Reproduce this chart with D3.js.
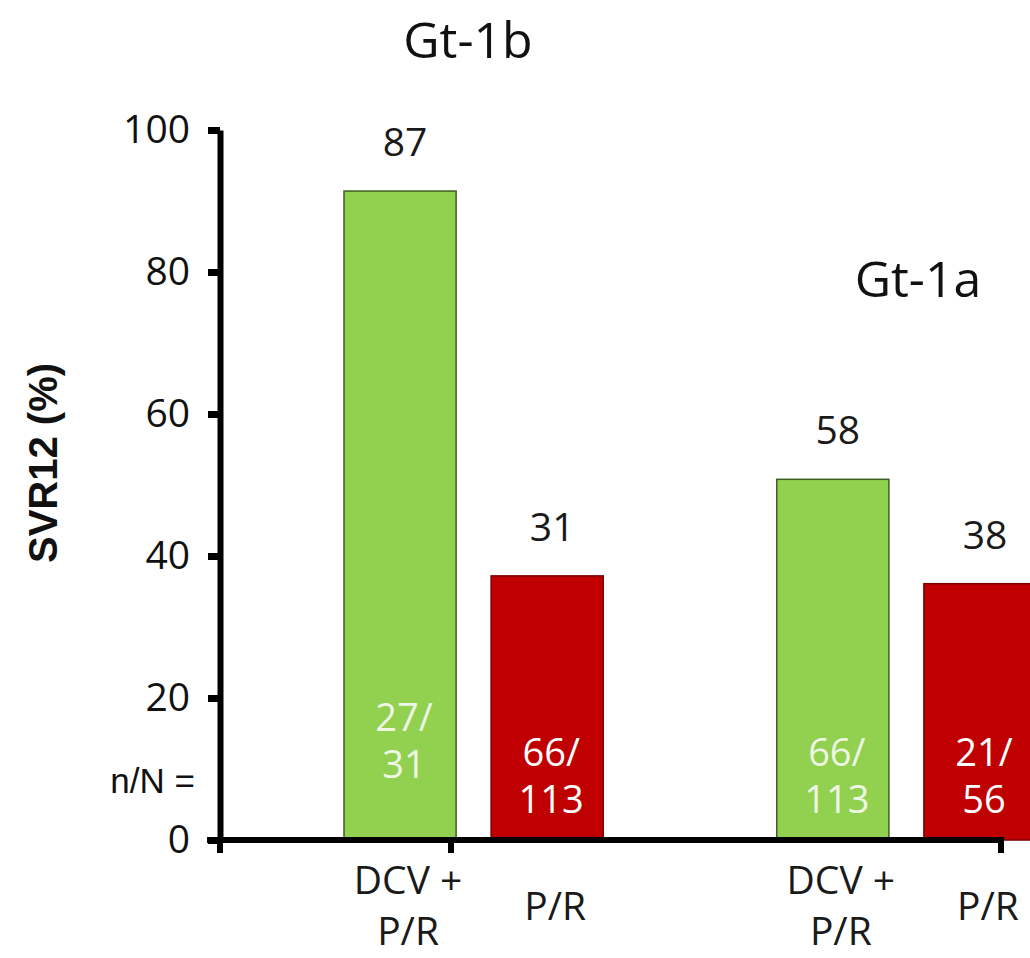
<!DOCTYPE html>
<html lang="en">
<head>
<meta charset="UTF-8">
<title>SVR12 by genotype</title>
<style>
    body {
        margin: 0;
        background-color: #FFFFFF;
    }
    svg {
        display: block;
        font-family: "Open Sans", sans-serif;
    }
</style>
</head>
<body>
<svg id="chart" width="1030" height="958"></svg>

<script src="https://d3js.org/d3.v7.min.js"></script>
<script>
    // Data
    const genotypes = ["Gt-1b", "Gt-1a"];
    const regimens = ["DCV + P/R", "P/R"];
    // bar heights as they are drawn in the picture (%)
    const barHeights = [[91.4, 37.2], [50.8, 36.1]];
    // printed SVR12 values above the bars
    const svrLabels = [[87, 31], [58, 38]];
    // n/N printed inside the bars
    const nOverN = [["27/31", "66/113"], ["66/113", "21/56"]];
    const yTicks = [0, 20, 40, 60, 80, 100];

    const colors = ["#92D050", "#C00000"];
    const strokes = ["#3E5E20", "#7A0000"];
    const innerText = ["#EEF7E4", "#FFFFFF"];

    const svg = d3.select("#chart");

    // Scales
    const y = d3.scaleLinear().domain([0, 100]).range([840, 130]);

    const x0 = d3.scaleBand()
        .domain(genotypes)
        .range([344, 1036])
        .paddingInner(0.401)
        .paddingOuter(0);

    const x1 = d3.scaleBand()
        .domain(regimens)
        .range([0, x0.bandwidth()])
        .paddingInner(0.238);

    const bars = [];
    genotypes.forEach((g, gi) => {
        regimens.forEach((r, ri) => {
            bars.push({
                g, r, gi, ri,
                h: barHeights[gi][ri],
                label: svrLabels[gi][ri],
                n: nOverN[gi][ri].split("/")
            });
        });
    });

    const cx = d => x0(d.g) + x1(d.r) + x1.bandwidth() / 2;

    // Bars
    svg.append("g")
        .selectAll("rect")
        .data(bars)
        .join("rect")
        .attr("x", d => x0(d.g) + x1(d.r))
        .attr("y", d => y(d.h))
        .attr("width", x1.bandwidth())
        .attr("height", d => y(0) - y(d.h))
        .attr("fill", d => colors[d.ri])
        .attr("stroke", d => strokes[d.ri])
        .attr("stroke-width", 1.5);

    // Y axis
    const yAxis = svg.append("g")
        .attr("transform", "translate(220,0)")
        .call(d3.axisLeft(y).tickValues(yTicks).tickSize(12).tickSizeOuter(0).tickPadding(18));
    yAxis.select(".domain")
        .attr("stroke", "#000").attr("stroke-width", 6)
        .style("stroke-width", "6px");
    yAxis.selectAll(".tick line")
        .attr("stroke", "#000").attr("stroke-width", 7)
        .style("stroke-width", "7px");
    yAxis.selectAll(".tick text")
        .attr("fill", "#111")
        .style("font-family", "'Open Sans', sans-serif")
        .style("font-size", "39px");

    // X axis line and its ticks
    const axisY = y(0);
    svg.append("line")
        .attr("x1", 207).attr("x2", 1004)
        .attr("y1", axisY).attr("y2", axisY)
        .attr("stroke", "#000").attr("stroke-width", 6);
    [220, 451, 1001].forEach(tx => {
        svg.append("line")
            .attr("x1", tx).attr("x2", tx)
            .attr("y1", axisY).attr("y2", axisY + 13)
            .attr("stroke", "#000").attr("stroke-width", 6);
    });

    // Values above bars
    svg.append("g")
        .selectAll("text")
        .data(bars)
        .join("text")
        .attr("x", d => cx(d) + 5)
        .attr("y", d => y(d.h) - 35)
        .attr("text-anchor", "middle")
        .attr("fill", "#1A1A1A")
        .style("font-size", "39px")
        .text(d => d.label);

    // n/N inside bars (first bar sits a bit higher)
    const innerLift = d => (d.gi === 0 && d.ri === 0) ? 35 : 0;
    const inner = svg.append("g")
        .selectAll("text")
        .data(bars)
        .join("text")
        .attr("text-anchor", "middle")
        .attr("fill", d => innerText[d.ri])
        .style("font-size", "38px");
    inner.append("tspan")
        .attr("x", d => cx(d) + 4)
        .attr("y", d => axisY - 74 - innerLift(d))
        .text(d => d.n[0] + "/");
    inner.append("tspan")
        .attr("x", d => cx(d) + 4)
        .attr("y", d => axisY - 27 - innerLift(d))
        .text(d => d.n[1]);

    // Category labels under the axis
    const cat = svg.append("g")
        .selectAll("text")
        .data(bars)
        .join("text")
        .attr("text-anchor", "middle")
        .attr("fill", "#1A1A1A")
        .style("font-size", "39px");
    cat.each(function (d) {
        const lines = d.r.includes("+") ? [d.r.split("+ ")[0] + "+", d.r.split("+ ")[1]] : [d.r];
        const t = d3.select(this);
        lines.forEach((line, li) => {
            t.append("tspan")
                .attr("x", cx(d) + 8)
                .attr("y", lines.length === 1 ? axisY + 80 : axisY + 54 + li * 51)
                .text(line);
        });
    });

    // Genotype titles
    const titlePos = [[468, 58], [918, 297]];
    svg.append("g")
        .selectAll("text")
        .data(genotypes)
        .join("text")
        .attr("x", (d, i) => titlePos[i][0])
        .attr("y", (d, i) => titlePos[i][1])
        .attr("text-anchor", "middle")
        .attr("fill", "#111")
        .style("font-size", "50px")
        .text(d => d);

    // Y axis title
    svg.append("text")
        .attr("transform", "translate(57,463) rotate(-90)")
        .attr("text-anchor", "middle")
        .attr("fill", "#111")
        .style("font-family", "'Liberation Sans', Arial, sans-serif")
        .style("font-weight", "bold")
        .style("font-size", "40px")
        .text("SVR12 (%)");

    svg.append("text")
        .attr("x", 195)
        .attr("y", 793)
        .attr("text-anchor", "end")
        .attr("fill", "#111")
        .style("font-family", "'Liberation Sans', Arial, sans-serif")
        .style("font-size", "35px")
        .text("n/N =");
</script>
</body>
</html>
